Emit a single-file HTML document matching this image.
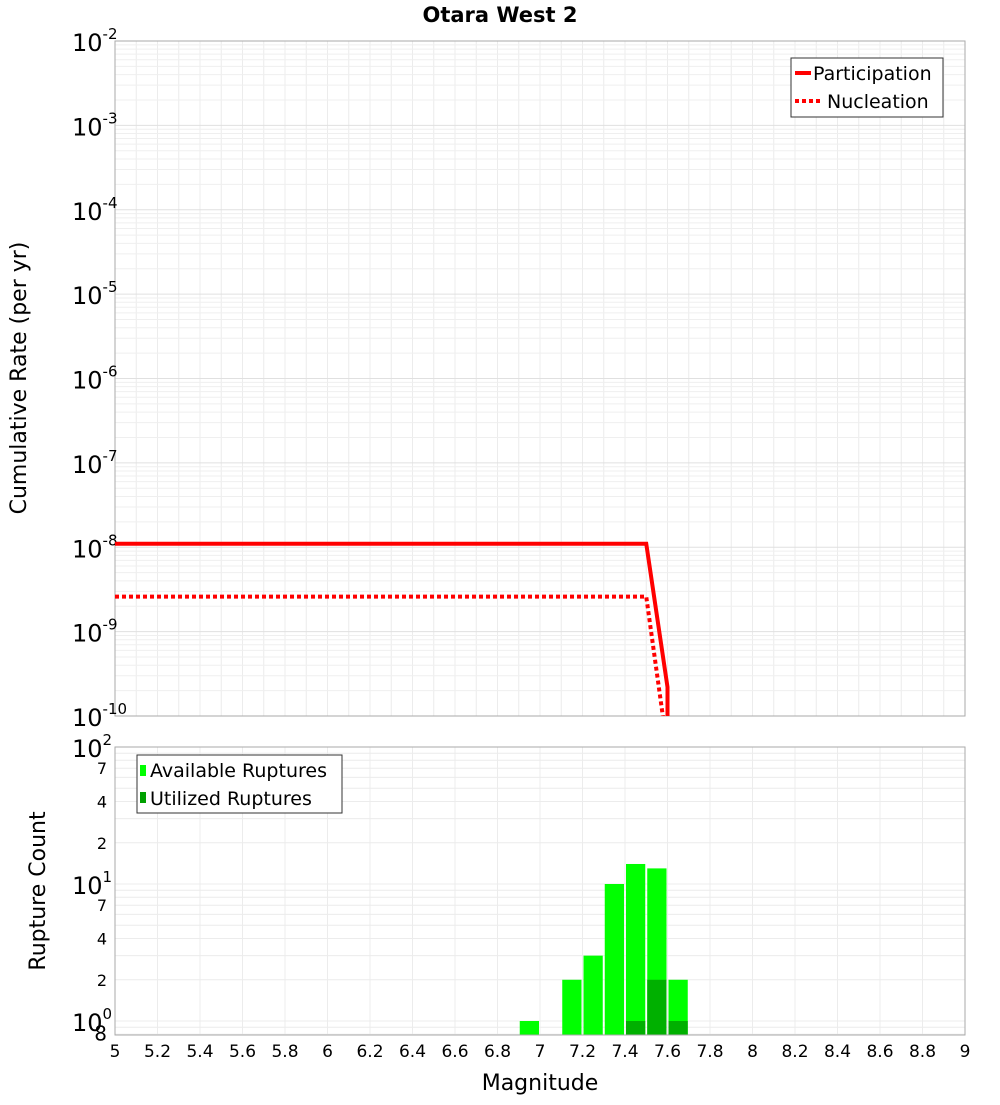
<!DOCTYPE html>
<html><head><meta charset="utf-8"><style>
body{margin:0;background:#fff;font-family:"Liberation Sans","DejaVu Sans",sans-serif;}
svg text{font-family:"DejaVu Sans","Liberation Sans",sans-serif;}
</style></head><body>
<svg id="c" width="1000" height="1100" xmlns="http://www.w3.org/2000/svg">
<text x="500" y="22" text-anchor="middle" font-size="21" font-weight="bold">Otara West 2</text>
<g id="topg"></g>
<g id="botg"></g>
<text transform="translate(26,378) rotate(-90)" text-anchor="middle" font-size="22">Cumulative Rate (per yr)</text>
<text transform="translate(45,891) rotate(-90)" text-anchor="middle" font-size="22">Rupture Count</text>
<text x="540" y="1090" text-anchor="middle" font-size="22">Magnitude</text>
</svg>
<script>
const partMags=[5,7.5,7.6,7.6];
const partVals=[1.1e-8,1.1e-8,2.2e-10,1e-11];
const nuclMags=[5,7.5,7.6];
const nuclVals=[2.6e-9,2.6e-9,4e-11];
const binStarts=[6.9,7.1,7.2,7.3,7.4,7.5,7.6];
const availCounts=[1,2,3,10,14,13,2];
const usedBins=[7.4,7.5,7.6];
const usedCounts=[1,2,1];
const xTicks=[5,5.2,5.4,5.6,5.8,6,6.2,6.4,6.6,6.8,7,7.2,7.4,7.6,7.8,8,8.2,8.4,8.6,8.8,9];
const topExps=[-2,-3,-4,-5,-6,-7,-8,-9,-10];
const NS='http://www.w3.org/2000/svg';
const X0=115,X1=965;
const sx=m=>X0+(m-5)/4*(X1-X0);
const T0=41,T1=716;
const sy=v=>T0+(-2-Math.log10(v))/8*(T1-T0);
const B0=747,B1=1035,BD=137;
const by=v=>B0+(2-Math.log10(v))*BD;
function mk(p,tag,a,txt){const e=document.createElementNS(NS,tag);for(const k in a)e.setAttribute(k,a[k]);if(txt!==undefined)e.textContent=txt;p.appendChild(e);return e;}
const topG=document.getElementById('topg'),botG=document.getElementById('botg');
const defs=mk(document.getElementById('c'),'defs',{});
const cp=mk(defs,'clipPath',{id:'ct'});mk(cp,'rect',{x:X0,y:T0,width:X1-X0,height:T1-T0});
const cp2=mk(defs,'clipPath',{id:'cb'});mk(cp2,'rect',{x:X0,y:B0,width:X1-X0,height:B1-B0});
for(let m=5;m<=9.001;m+=0.1){let l=mk(topG,'line',{x1:sx(m),x2:sx(m),y1:T0,y2:T1,stroke:'#ececec'});

}
for(let e=-10;e<-2;e++)for(let k=1;k<10;k++){const y=sy(k*Math.pow(10,e));let l=mk(topG,'line',{x1:X0,x2:X1,y1:y,y2:y,stroke:k==1?'#e0e0e0':'#efefef'});

}
let fr=mk(topG,'rect',{x:X0,y:T0,width:X1-X0,height:T1-T0,fill:'none',stroke:'#aaa'});


topExps.forEach(e=>{const y=sy(Math.pow(10,e));const t=mk(topG,'text',{x:72,y:y+10,'font-size':24});


mk(t,'tspan',{},'10');mk(t,'tspan',{dy:-12,'font-size':15},String(e));});
function path(ms,vs,f){return ms.map((m,i)=>(i?'L':'M')+sx(m)+','+f(vs[i])).join(' ');}
let p1=mk(topG,'path',{d:path(partMags,partVals,sy),fill:'none',stroke:'#f00','stroke-width':4,'clip-path':'url(#ct)'});


let p2=mk(topG,'path',{d:path(nuclMags,nuclVals,sy),fill:'none',stroke:'#f00','stroke-width':4,'stroke-dasharray':'4,3','clip-path':'url(#ct)'});


const lg=mk(topG,'g',{});


mk(lg,'rect',{x:791,y:58,width:152,height:59,fill:'#fff',stroke:'#333'});
mk(lg,'line',{x1:795,x2:811,y1:73,y2:73,stroke:'#f00','stroke-width':4});
mk(lg,'text',{x:813,y:80,'font-size':19},'Participation');
mk(lg,'line',{x1:795,x2:822,y1:101,y2:101,stroke:'#f00','stroke-width':4,'stroke-dasharray':'4,3'});
mk(lg,'text',{x:827,y:108,'font-size':19},'Nucleation');
for(let m=5;m<=9.001;m+=0.2){let l=mk(botG,'line',{x1:sx(m),x2:sx(m),y1:B0,y2:B1,stroke:'#ececec'});

}
[0.8,0.9,1,2,3,4,5,6,7,8,9,10,20,30,40,50,60,70,80,90].forEach(v=>{const y=by(v);let l=mk(botG,'line',{x1:X0,x2:X1,y1:y,y2:y,stroke:'#ececec'});

});
binStarts.forEach((b,i)=>{let r=mk(botG,'rect',{x:sx(b)+1,y:by(availCounts[i]),width:sx(b+0.1)-sx(b)-2,height:B1-by(availCounts[i]),fill:'#00ff00','clip-path':'url(#cb)'});

});
usedBins.forEach((b,i)=>{let r=mk(botG,'rect',{x:sx(b)+1,y:by(usedCounts[i]),width:sx(b+0.1)-sx(b)-2,height:B1-by(usedCounts[i]),fill:'#00b000','clip-path':'url(#cb)'});

});
let fr2=mk(botG,'rect',{x:X0,y:B0,width:X1-X0,height:B1-B0,fill:'none',stroke:'#aaa'});


[0,1,2].forEach(e=>{const y=by(Math.pow(10,e));const t=mk(botG,'text',{x:72,y:y+10,'font-size':24});


mk(t,'tspan',{},'10');mk(t,'tspan',{dy:-12,'font-size':15},String(e));});
[[70,'7'],[40,'4'],[20,'2'],[7,'7'],[4,'4'],[2,'2'],[0.8,'8']].forEach(a=>{const t=mk(botG,'text',{x:107,y:by(a[0])+6,'text-anchor':'end','font-size':a[0]<1?20:16},a[1]);

});
xTicks.forEach(m=>{const t=mk(botG,'text',{x:sx(m),y:1057,'text-anchor':'middle','font-size':17},String(m));

});
const lg2=mk(botG,'g',{});


mk(lg2,'rect',{x:137,y:755,width:205,height:58,fill:'#fff',stroke:'#333'});
mk(lg2,'rect',{x:140,y:765,width:6,height:11,fill:'#00ff00'});
mk(lg2,'text',{x:150,y:777,'font-size':19},'Available Ruptures');
mk(lg2,'rect',{x:140,y:792,width:6,height:11,fill:'#00a000'});
mk(lg2,'text',{x:150,y:805,'font-size':19},'Utilized Ruptures');
</script>
</body></html>
